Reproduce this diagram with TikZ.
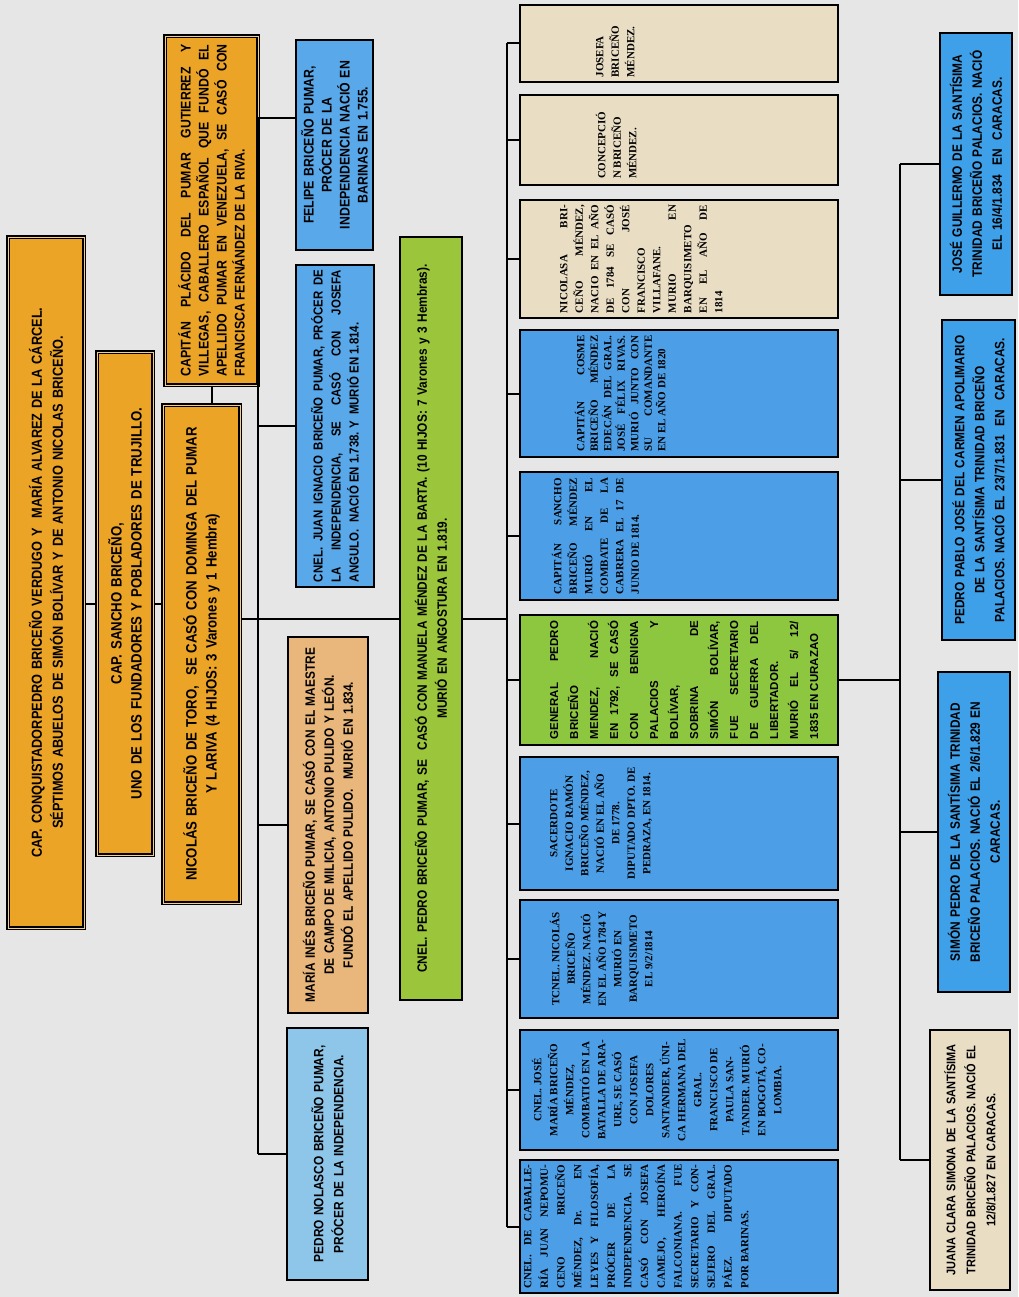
\documentclass[tikz,border=0pt]{standalone}
\usepackage{fontspec}
\setmainfont{Liberation Serif}
\newfontfamily\narrowsans[FakeStretch=0.88]{Liberation Sans}
\newfontfamily\plainsans{Liberation Sans}

\definecolor{bggray}{RGB}{230,230,230}
\definecolor{orangebox}{RGB}{236,164,38}
\definecolor{skyblue}{RGB}{88,168,234}
\definecolor{peach}{RGB}{233,183,124}
\definecolor{paleblue}{RGB}{142,198,234}
\definecolor{olivebox}{RGB}{155,198,60}
\definecolor{kidblue}{RGB}{76,158,230}
\definecolor{kidbeige}{RGB}{233,221,196}
\definecolor{kidgreen}{RGB}{141,198,63}
\definecolor{gkblue}{RGB}{62,160,232}

\hyphenpenalty=10000
% text of a child box, pushed to the left side of the box
\newcommand{\kidtext}[3]{\parbox[c][310pt][t]{#1}{\vspace*{#2}#3}}

\begin{document}
\begin{tikzpicture}[
	x=1pt, y=-1pt,
	person/.style={ draw, line width=2.4pt, rotate=90, inner sep=2pt, align=center, font=\narrowsans\bfseries\fontsize{13.5}{19}\selectfont },
	elder/.style={ person, fill=orangebox, line width=1.2pt, double=orangebox!55!white, double distance=0.9pt, font=\narrowsans\bfseries\fontsize{14.5}{21}\selectfont },
	kid/.style={ draw, line width=2.4pt, rotate=90, inner sep=0pt, minimum height=318pt, font=\bfseries\fontsize{11}{15.5}\selectfont },
	grandkid/.style={ person, fill=gkblue, font=\narrowsans\bfseries\fontsize{13.5}{20}\selectfont },
	link/.style={ line width=2pt }
]
	\path[use as bounding box, fill=bggray] (0,0) rectangle (1018,1297);

	% ancestors
	\node[elder, minimum width=691pt, minimum height=76pt, text width=660pt] (anc1) at (46,582.5) {CAP. CONQUISTADORPEDRO BRICEÑO VERDUGO Y~~MARÍA ALVAREZ DE LA CÁRCEL.\\ SÉPTIMOS ABUELOS DE SIMÓN BOLÍVAR Y DE ANTONIO NICOLAS BRICEÑO.};
	\node[elder, minimum width=503pt, minimum height=56pt, text width=480pt, font=\narrowsans\bfseries\fontsize{15}{20}\selectfont] (anc2) at (125,603.5) {CAP. SANCHO BRICEÑO,\\ UNO DE LOS FUNDADORES Y POBLADORES DE TRUJILLO.};
	\node[elder, minimum width=498pt, minimum height=77pt, text width=485pt, font=\narrowsans\bfseries\fontsize{15}{20}\selectfont] (nicolas) at (201.5,654) {NICOLÁS BRICEÑO DE TORO,~~SE CASÓ CON DOMINGA DEL PUMAR\\ Y LARIVA (4 HIJOS: 3 Varones y 1 Hembra)};
	\node[elder, minimum width=349pt, minimum height=93pt, text width=332pt, align=justify, font=\narrowsans\bfseries\fontsize{14}{18}\selectfont] (placido) at (211.5,210.5) {CAPITÁN PLÁCIDO DEL PUMAR GUTIERREZ Y\linebreak VILLEGAS, CABALLERO ESPAÑOL QUE FUNDÓ EL\linebreak APELLIDO PUMAR EN VENEZUELA, SE CASÓ CON\linebreak FRANCISCA FERNÁNDEZ DE LA RIVA.};

	% children of Nicolás
	\node[person, fill=skyblue, minimum width=210pt, minimum height=77pt, text width=196pt, font=\narrowsans\bfseries\fontsize{14}{18}\selectfont] (felipe) at (334.5,145) {FELIPE BRICEÑO PUMAR,\\ PRÓCER DE LA\\ INDEPENDENCIA NACIÓ EN\\ BARINAS EN 1.755.};
	\node[person, fill=skyblue, minimum width=322pt, minimum height=78pt, text width=312pt, align=justify, font=\narrowsans\bfseries\fontsize{13}{18}\selectfont] (juanig) at (335,426) {CNEL. JUAN IGNACIO BRICEÑO PUMAR, PRÓCER DE\linebreak LA INDEPENDENCIA, SE CASÓ CON JOSEFA\linebreak ANGULO.~~NACIÓ EN 1.738.~Y~~MURIÓ EN 1.814.};
	\node[person, fill=olivebox, minimum width=763pt, minimum height=62pt, text width=740pt, font=\narrowsans\bfseries\fontsize{13.5}{20}\selectfont] (pedro) at (431,618.5) {CNEL. PEDRO BRICEÑO PUMAR, SE~~CASÓ CON MANUELA MÉNDEZ DE LA BARTA. (10 HIJOS: 7 Varones y 3 Hembras).\\ MURIÓ EN ANGOSTURA EN 1.819.};
	\node[person, fill=peach, minimum width=376pt, minimum height=80pt, text width=362pt] (mines) at (328,825) {MARÍA INÉS BRICEÑO PUMAR, SE CASÓ CON EL MAESTRE\\ DE CAMPO DE MILICIA, ANTONIO PULIDO Y LEÓN.\\ FUNDÓ EL APELLIDO PULIDO.~~MURIÓ EN 1.834.};
	\node[person, fill=paleblue, minimum width=252pt, minimum height=81pt, text width=240pt, font=\narrowsans\bfseries\fontsize{13.5}{20}\selectfont] (nolasco) at (327.5,1154) {PEDRO NOLASCO BRICEÑO PUMAR,\\ PRÓCER DE LA INDEPENDENCIA.};

	% children of Pedro
	\node[kid, fill=kidbeige, minimum width=77pt] (josefa) at (679,43.5) {\kidtext{68pt}{72pt}{\raggedright JOSEFA\\ BRICEÑO\\ MÉNDEZ.}};
	\node[kid, fill=kidbeige, minimum width=90pt] (concep) at (679,140) {\kidtext{78pt}{72pt}{\raggedright CONCEPCIÓ\\ N BRICEÑO\\ MÉNDEZ.}};
	\node[kid, fill=kidbeige, minimum width=118pt] (nicolasa) at (679,259) {\kidtext{108pt}{36pt}{NICOLASA BRI-\linebreak CEÑO MÉNDEZ,\linebreak NACIO EN EL AÑO\linebreak DE 1784 SE CASÓ\linebreak CON JOSÉ\linebreak FRANCISCO\linebreak VILLAFANE.\linebreak MURIO EN\linebreak BARQUISIMETO\linebreak EN EL AÑO DE\linebreak 1814}};
	\node[kid, fill=kidblue, minimum width=127pt, font=\bfseries\fontsize{11}{13.5}\selectfont] (cosme) at (679,393.5) {\kidtext{116pt}{51pt}{CAPITÁN COSME\linebreak BRICEÑO MÉNDEZ\linebreak EDECÁN DEL GRAL.\linebreak JOSÉ FÉLIX RIVAS.\linebreak MURIÓ JUNTO CON\linebreak SU COMANDANTE\linebreak EN EL AÑO DE 1820}};
	\node[kid, fill=kidblue, minimum width=128pt] (sancho) at (679,536) {\kidtext{116pt}{28pt}{CAPITÁN SANCHO\linebreak BRICEÑO MÉNDEZ\linebreak MURIÓ EN EL\linebreak COMBATE DE LA\linebreak CABRERA EL 17 DE\linebreak JUNIO DE 1814.}};
	\node[kid, fill=kidgreen, minimum width=130pt, font=\plainsans\bfseries\fontsize{11.5}{20}\selectfont] (general) at (679,680) {\kidtext{118pt}{26pt}{GENERAL PEDRO\linebreak BRICEÑO\linebreak MENDEZ, NACIÓ\linebreak EN 1792, SE CASÓ\linebreak CON BENIGNA\linebreak PALACIOS Y\linebreak BOLÍVAR,\linebreak SOBRINA DE\linebreak SIMÓN BOLÍVAR,\linebreak FUE SECRETARIO\linebreak DE GUERRA DEL\linebreak LIBERTADOR.\linebreak MURIÓ EL 5/ 12/\linebreak 1835 EN CURAZAO}};
	\node[kid, fill=kidblue, minimum width=133pt] (sacerdote) at (679,823.5) {\kidtext{125pt}{26pt}{\centering SACERDOTE\\ IGNACIO RAMÓN\\ BRICEÑO MÉNDEZ,\\ NACIÓ EN EL AÑO\\ DE 1778.\\ DIPUTADO DPTO. DE\\ PEDRAZA, EN 1814.}};
	\node[kid, fill=kidblue, minimum width=118pt] (tcnel) at (679,959) {\kidtext{110pt}{26pt}{\centering TCNEL. NICOLÁS\\ BRICEÑO\\ MÉNDEZ. NACIÓ\\ EN EL AÑO 1784 Y\\ MURIÓ EN\\ BARQUISIMETO\\ EL 9/2/1814}};
	\node[kid, fill=kidblue, minimum width=120pt, font=\bfseries\fontsize{11}{16}\selectfont] (josemaria) at (679,1090) {\kidtext{112pt}{8pt}{\centering CNEL. JOSÉ\\ MARÍA BRICEÑO\\ MÉNDEZ,\\ COMBATIÓ EN LA\\ BATALLA DE ARA-\\ URE, SE CASÓ\\ CON JOSEFA\\ DOLORES\\ SANTANDER, ÚNI-\\ CA HERMANA DEL\\ GRAL.\\ FRANCISCO DE\\ PAULA SAN-\\ TANDER. MURIÓ\\ EN BOGOTÁ, CO-\\ LOMBIA.}};
	\node[kid, fill=kidblue, minimum width=133pt, font=\bfseries\fontsize{11}{16.7}\selectfont] (juannep) at (679,1226.5) {\kidtext{124pt}{0pt}{CNEL. DE CABALLE-\linebreak RÍA JUAN NEPOMU-\linebreak CENO BRICEÑO\linebreak MÉNDEZ, Dr. EN\linebreak LEYES Y FILOSOFÍA,\linebreak PRÓCER DE LA\linebreak INDEPENDENCIA. SE\linebreak CASÓ CON JOSEFA\linebreak CAMEJO, HEROÍNA\linebreak FALCONIANA. FUE\linebreak SECRETARIO Y CON-\linebreak SEJERO DEL GRAL.\linebreak PÁEZ. DIPUTADO\linebreak POR BARINAS.}};

	% children of the General
	\node[grandkid, minimum width=262pt, minimum height=72pt, text width=250pt] (guillermo) at (976,164) {JOSÉ GUILLERMO DE LA SANTÍSIMA\\ TRINIDAD BRICEÑO PALACIOS. NACIÓ\\ EL 16/4/1.834~~EN~~CARACAS.};
	\node[grandkid, minimum width=320pt, minimum height=73pt, text width=306pt] (pablo) at (978.5,480) {PEDRO PABLO JOSÉ DEL CARMEN APOLIMARIO\\ DE LA SANTÍSIMA TRINIDAD BRICEÑO\\ PALACIOS. NACIÓ EL 23/7/1.831~~EN~~CARACAS.};
	\node[grandkid, minimum width=320pt, minimum height=72pt, text width=306pt] (simon) at (974,832) {SIMÓN PEDRO DE LA SANTÍSIMA TRINIDAD\\ BRICEÑO PALACIOS. NACIÓ EL 2/6/1.829 EN\\ CARACAS.};
	\node[grandkid, fill=kidbeige, minimum width=260pt, minimum height=80pt, text width=256pt, font=\narrowsans\bfseries\fontsize{12.5}{20}\selectfont] (juana) at (970,1160) {JUANA CLARA SIMONA DE LA SANTÍSIMA\\ TRINIDAD BRICEÑO PALACIOS. NACIÓ EL\\ 12/8/1.827 EN CARACAS.};

	% lines of descent
	\draw[link] (anc1.south |- anc2.north) -- (anc2.north);
	\draw[link] (anc2.south) -- (anc2.south -| nicolas.north);
	\draw[link] (placido.west) -- (placido.west |- nicolas.east);
	\draw[link] (nicolas.south |- pedro.north) -- (pedro.north);

	\coordinate (busAtop) at (258,118);
	\coordinate (busAbot) at (258,1154);
	\draw[link] (busAtop) -- (busAbot);
	\draw[link] (busAtop) -- (busAtop -| felipe.north);
	\draw[link] (busAtop |- juanig.north) -- (juanig.north);
	\draw[link] (busAtop |- mines.north) -- (mines.north);
	\draw[link] (busAbot) -- (nolasco.north);

	\coordinate (busBtop) at (507,43.5);
	\coordinate (busBbot) at (507,1226.5);
	\draw[link] (pedro.south) -- (pedro.south -| busBtop);
	\draw[link] (busBtop) -- (busBbot);
	\foreach \child in {josefa,concep,nicolasa,cosme,sancho,general,sacerdote,tcnel,josemaria,juannep}
		\draw[link] (busBtop |- \child.north) -- (\child.north);

	\coordinate (busCtop) at (900,164);
	\coordinate (busCbot) at (900,1160);
	\draw[link] (general.south) -- (general.south -| busCtop);
	\draw[link] (busCtop) -- (busCbot);
	\foreach \gk in {guillermo,pablo,simon,juana}
		\draw[link] (busCtop |- \gk.north) -- (\gk.north);

\end{tikzpicture}
\end{document}
